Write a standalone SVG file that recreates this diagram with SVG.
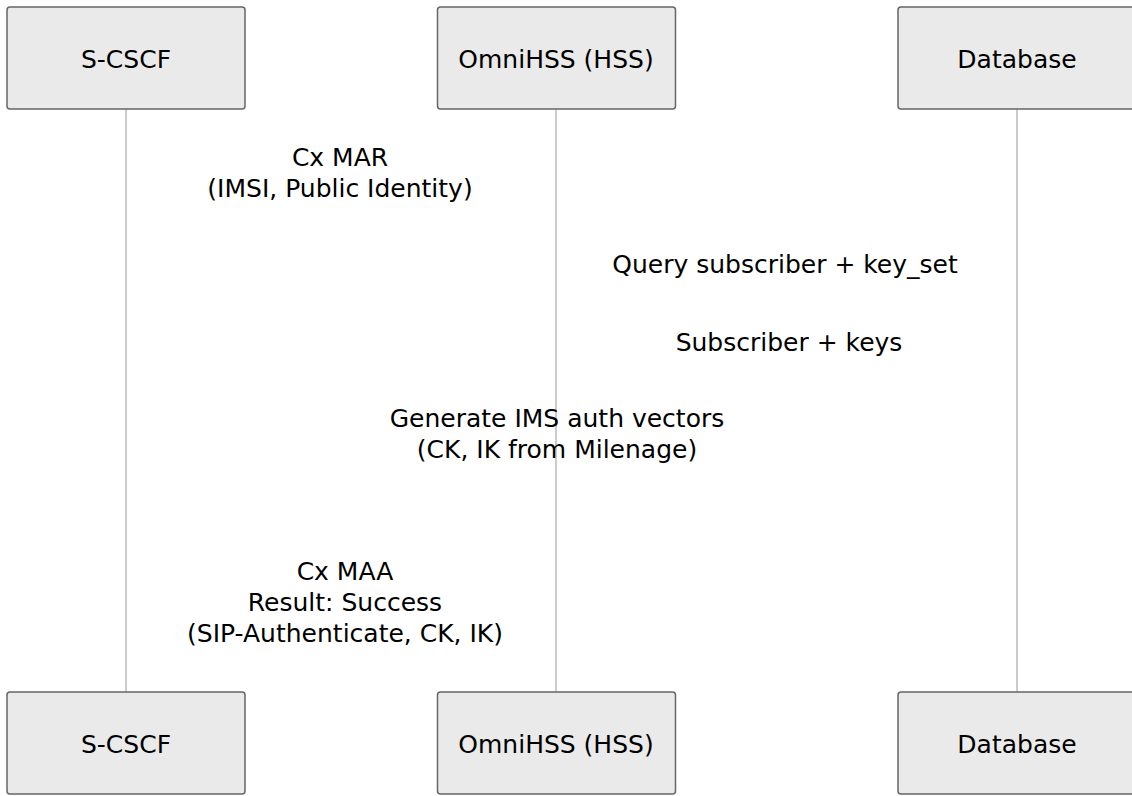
<svg xmlns="http://www.w3.org/2000/svg" width="1132" height="796" viewBox="0 0 1132 796">
<style>
.actor{fill:#eaeaea;stroke:#666666;stroke-width:1.5}
.lbl{font-family:"DejaVu Sans",sans-serif;font-size:25px;fill:#000000;text-anchor:middle}
.life{stroke:#999999;stroke-width:1;fill:none}
</style>
<rect width="1132" height="796" fill="#ffffff"/>
<g id="connectors">
<line class="life" x1="126" y1="109" x2="126" y2="692"/>
<line class="life" x1="556" y1="109" x2="556" y2="692"/>
<line class="life" x1="1017" y1="109" x2="1017" y2="692"/>
</g>
<g id="actor-scscf-top"><rect class="actor" x="7" y="7" width="238" height="102" rx="3"/><text class="lbl" x="126" y="68">S-CSCF</text></g>
<g id="actor-hss-top"><rect class="actor" x="437.5" y="7" width="238" height="102" rx="3"/><text class="lbl" x="556" y="68">OmniHSS (HSS)</text></g>
<g id="actor-db-top"><rect class="actor" x="898" y="7" width="238" height="102" rx="3"/><text class="lbl" x="1017" y="68">Database</text></g>
<g id="actor-scscf-bottom"><rect class="actor" x="7" y="692" width="238" height="102" rx="3"/><text class="lbl" x="126" y="753">S-CSCF</text></g>
<g id="actor-hss-bottom"><rect class="actor" x="437.5" y="692" width="238" height="102" rx="3"/><text class="lbl" x="556" y="753">OmniHSS (HSS)</text></g>
<g id="actor-db-bottom"><rect class="actor" x="898" y="692" width="238" height="102" rx="3"/><text class="lbl" x="1017" y="753">Database</text></g>
<g id="messages">
<text class="lbl" x="340" y="166">Cx MAR</text>
<text class="lbl" x="340" y="197">(IMSI, Public Identity)</text>
<text class="lbl" x="785" y="273">Query subscriber + key_set</text>
<text class="lbl" x="789" y="351">Subscriber + keys</text>
<text class="lbl" x="557" y="427">Generate IMS auth vectors</text>
<text class="lbl" x="557" y="458">(CK, IK from Milenage)</text>
<text class="lbl" x="345" y="580">Cx MAA</text>
<text class="lbl" x="345" y="611">Result: Success</text>
<text class="lbl" x="345" y="642">(SIP-Authenticate, CK, IK)</text>
</g>
</svg>
